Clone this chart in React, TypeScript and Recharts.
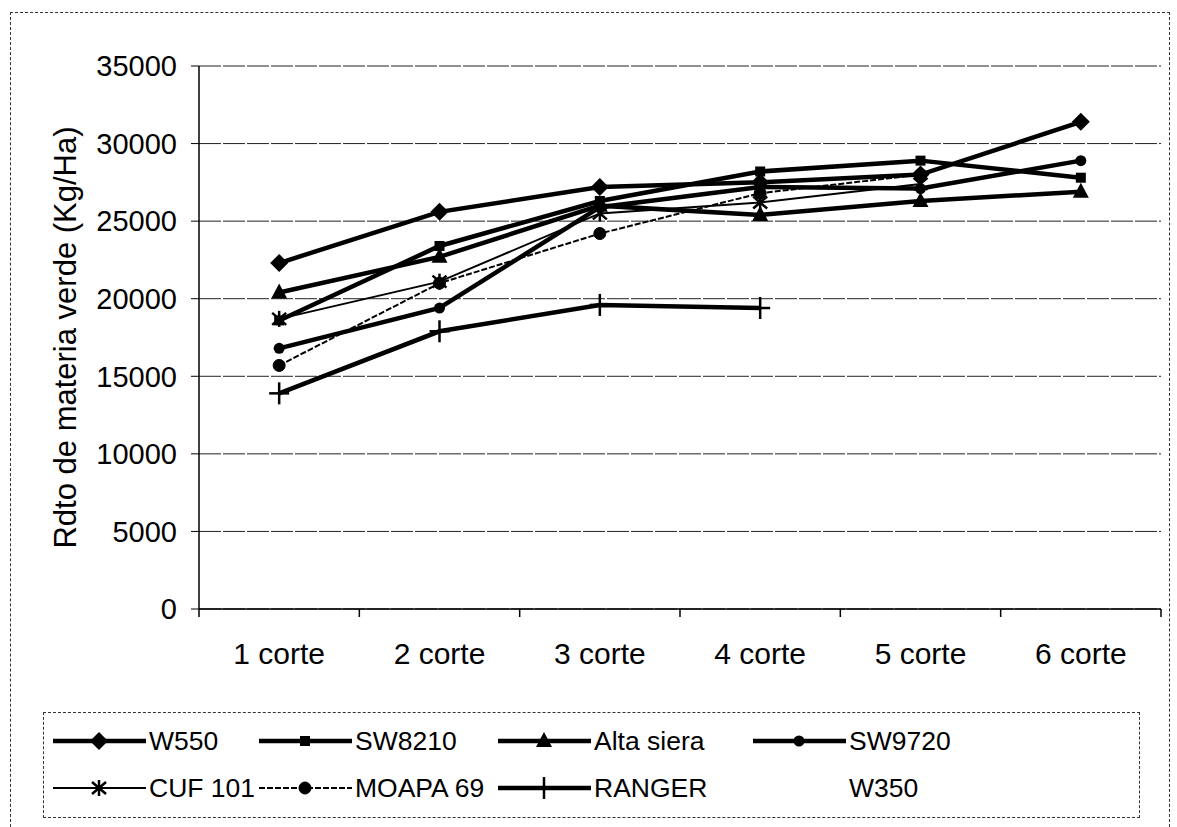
import { CartesianGrid, Line, LineChart, XAxis, YAxis } from "recharts";

const categories = ["1 corte", "2 corte", "3 corte", "4 corte", "5 corte", "6 corte"];

const w550 = [22300, 25600, 27200, 27500, 28000, 31400];
const sw8210 = [18600, 23400, 26300, 28200, 28900, 27800];
const altaSiera = [20400, 22700, 26000, 25400, 26300, 26900];
const sw9720 = [16800, 19400, 25900, 27200, 27100, 28900];
const cuf101 = [18700, 21100, 25500, 26200, 27400, null];
const moapa69 = [15700, 21000, 24200, 26800, 28000, null];
const ranger = [13900, 17900, 19600, 19400, null, null];
const w350 = [null, null, null, null, null, null];

const yTicks = [0, 5000, 10000, 15000, 20000, 25000, 30000, 35000];

type MarkerKind = "diamond" | "square" | "triangle" | "circle" | "asterisk" | "ring" | "plus" | "none";

interface SeriesDef {
  key: string;
  name: string;
  values: (number | null)[];
  marker: MarkerKind;
  width: number;
  dash?: string;
}

const series: SeriesDef[] = [
  { key: "w550", name: "W550", values: w550, marker: "diamond", width: 4.5 },
  { key: "sw8210", name: "SW8210", values: sw8210, marker: "square", width: 4.5 },
  { key: "altaSiera", name: "Alta siera", values: altaSiera, marker: "triangle", width: 4.5 },
  { key: "sw9720", name: "SW9720", values: sw9720, marker: "circle", width: 4.5 },
  { key: "cuf101", name: "CUF 101", values: cuf101, marker: "asterisk", width: 2 },
  { key: "moapa69", name: "MOAPA 69", values: moapa69, marker: "ring", width: 2, dash: "6 2" },
  { key: "ranger", name: "RANGER", values: ranger, marker: "plus", width: 4.5 },
  { key: "w350", name: "W350", values: w350, marker: "none", width: 0 },
];

const data = categories.map((corte, i) => {
  const row: Record<string, string | number | null> = { corte };
  series.forEach((s) => {
    row[s.key] = s.values[i];
  });
  return row;
});

const W = 1177;
const H = 827;
const MARGIN = { top: 66, right: 16, bottom: 158, left: 0 };
const Y_AXIS_W = 199;
const BAND = (W - MARGIN.left - MARGIN.right - Y_AXIS_W) / categories.length;
const X_TICK_SIZE = 8;
const X_TICK_MARGIN = 26;
const FONT = "'Liberation Sans', Arial, sans-serif";

function Marker({ kind, cx, cy }: { kind: MarkerKind; cx: number; cy: number }) {
  switch (kind) {
    case "diamond":
      return <polygon points={`${cx},${cy - 9} ${cx + 9},${cy} ${cx},${cy + 9} ${cx - 9},${cy}`} fill="#000" />;
    case "square":
      return <rect x={cx - 5} y={cy - 5} width={10} height={10} fill="#000" />;
    case "triangle":
      return <polygon points={`${cx},${cy - 9} ${cx + 8},${cy + 6} ${cx - 8},${cy + 6}`} fill="#000" />;
    case "circle":
      return <circle cx={cx} cy={cy} r={5.5} fill="#000" />;
    case "ring":
      return <circle cx={cx} cy={cy} r={6} fill="#000" stroke="#000" strokeWidth={1} />;
    case "asterisk":
      return (
        <g stroke="#000" strokeWidth={2.5}>
          <line x1={cx} y1={cy - 8} x2={cx} y2={cy + 8} />
          <line x1={cx - 7} y1={cy - 6} x2={cx + 7} y2={cy + 6} />
          <line x1={cx - 7} y1={cy + 6} x2={cx + 7} y2={cy - 6} />
        </g>
      );
    case "plus":
      return (
        <g stroke="#000" strokeWidth={2.5}>
          <line x1={cx - 10} y1={cy} x2={cx + 10} y2={cy} />
          <line x1={cx} y1={cy - 11} x2={cx} y2={cy + 11} />
        </g>
      );
    default:
      return null;
  }
}

function renderDot(kind: MarkerKind) {
  return (p: any) => {
    const k = `${kind}-${p.index}`;
    if (p.value == null || p.cx == null || p.cy == null) return <g key={k} />;
    return (
      <g key={k}>
        <Marker kind={kind} cx={p.cx} cy={p.cy} />
      </g>
    );
  };
}

// category labels, with the tick marks drawn on the band boundaries
function CorteTick(props: any) {
  const { x, y, payload, index } = props;
  const axisY = y - X_TICK_SIZE - X_TICK_MARGIN;
  return (
    <g>
      <line x1={x - BAND / 2} y1={axisY} x2={x - BAND / 2} y2={axisY + X_TICK_SIZE} stroke="#000" strokeWidth={1.5} />
      {index === categories.length - 1 && (
        <line x1={x + BAND / 2} y1={axisY} x2={x + BAND / 2} y2={axisY + X_TICK_SIZE} stroke="#000" strokeWidth={1.5} />
      )}
      <text x={x} y={y} dy="0.71em" textAnchor="middle" fontSize={30} fontFamily={FONT} fill="#000">
        {payload.value}
      </text>
    </g>
  );
}

function YTitle(props: any) {
  const vb = props.viewBox || { x: 0, y: 0, height: 0 };
  const cx = vb.x + 65;
  const cy = vb.y + vb.height / 2;
  return (
    <text
      x={cx}
      y={cy}
      transform={`rotate(-90 ${cx} ${cy})`}
      textAnchor="middle"
      dominantBaseline="central"
      fontSize={31}
      fontFamily={FONT}
      fill="#000"
    >
      Rdto de materia verde (Kg/Ha)
    </text>
  );
}

const legendCols = [9, 215, 454, 709];

function LegendBox() {
  return (
    <div
      style={{
        position: "absolute",
        left: 43,
        top: 712,
        width: 1097,
        height: 106,
        border: "1px dashed #333",
        boxSizing: "border-box",
        fontFamily: FONT,
        fontSize: 26.5,
      }}
    >
      {series.map((s, i) => {
        const col = i % 4;
        const row = Math.floor(i / 4);
        return (
          <div
            key={s.key}
            style={{
              position: "absolute",
              left: legendCols[col],
              top: 13 + row * 47,
              height: 30,
              display: "flex",
              alignItems: "center",
              whiteSpace: "nowrap",
            }}
          >
            <svg width={93} height={30} style={{ marginRight: 3 }}>
              {s.marker !== "none" && (
                <>
                  <line
                    x1={0}
                    y1={15}
                    x2={93}
                    y2={15}
                    stroke="#000"
                    strokeWidth={s.width}
                    strokeDasharray={s.dash}
                  />
                  <Marker kind={s.marker} cx={46} cy={15} />
                </>
              )}
            </svg>
            <span>{s.name}</span>
          </div>
        );
      })}
    </div>
  );
}

export default function App() {
  return (
    <div style={{ position: "absolute", left: 0, top: 0, width: W, height: H, background: "#fff" }}>
      <div
        style={{
          position: "absolute",
          left: 10,
          top: 12,
          width: 1160,
          height: 830,
          border: "1px dashed #333",
          boxSizing: "border-box",
        }}
      />
      <LineChart width={W} height={H} data={data} margin={MARGIN} style={{ position: "absolute", left: 0, top: 0 }}>
        <CartesianGrid vertical={false} stroke="#222" strokeDasharray="22 2" />
        <XAxis
          dataKey="corte"
          height={60}
          padding={{ left: BAND / 2, right: BAND / 2 }}
          tickLine={false}
          tickSize={X_TICK_SIZE}
          tickMargin={X_TICK_MARGIN}
          tick={<CorteTick />}
          axisLine={{ stroke: "#000", strokeWidth: 1.5 }}
          interval={0}
        />
        <YAxis
          width={Y_AXIS_W}
          domain={[0, 35000]}
          ticks={yTicks}
          interval={0}
          tickSize={8}
          tickMargin={14}
          tick={{ fontSize: 29, fontFamily: FONT, fill: "#000" }}
          tickLine={{ stroke: "#000" }}
          axisLine={{ stroke: "#000", strokeWidth: 1.5 }}
          label={{ content: YTitle }}
        />
        <YAxis
          yAxisId="frame"
          orientation="right"
          width={0}
          domain={[0, 35000]}
          tick={false}
          tickLine={false}
          axisLine={{ stroke: "#444", strokeDasharray: "4 2" }}
        />
        {series.map((s) => (
          <Line
            key={s.key}
            dataKey={s.key}
            name={s.name}
            type="linear"
            stroke="#000"
            strokeWidth={s.width}
            strokeDasharray={s.dash}
            dot={renderDot(s.marker)}
            activeDot={false}
            connectNulls={false}
            isAnimationActive={false}
          />
        ))}
      </LineChart>
      <LegendBox />
    </div>
  );
}
